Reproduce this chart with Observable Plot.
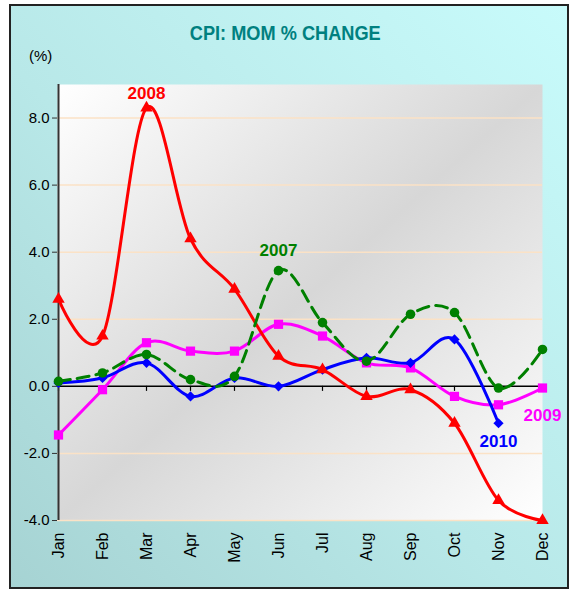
<!DOCTYPE html>
<html>
<head>
<meta charset="utf-8">
<script src="https://cdn.jsdelivr.net/npm/d3@7"></script>
<script src="https://cdn.jsdelivr.net/npm/@observablehq/plot@0.6"></script>
<style>
  html, body { margin: 0; padding: 0; background: #fff; }
  #wrap { position: relative; width: 571px; height: 591px; overflow: hidden; font-family: "Liberation Sans", Arial, sans-serif; }
  #frame { position: absolute; left: 9px; top: 4px; width: 556px; height: 581px; border: 2px solid #222;
           background: linear-gradient(to top right, #a6d3d3 0%, #b8e8e8 45%, #c8fbfb 100%); }
  #title { position: absolute; left: 0; width: 571px; top: 21px; text-align: center; }
  #title span { display: inline-block; color: #008080; font-family: "Liberation Sans", Arial, sans-serif;
           font-weight: bold; font-size: 21px; transform-origin: 50% 50%; white-space: nowrap; }
  #unit { position: absolute; left: 29px; top: 47px; font-size: 15px; color: #000; }
  #chart { position: absolute; left: 0; top: 70px; }
</style>
</head>
<body>
<div id="wrap">
  <div id="frame"></div>
  <div id="title"><span id="tspan">CPI: MOM % CHANGE</span></div>
  <div id="unit">(%)</div>
  <div id="chart"></div>
</div>
<script>
const months = ["Jan","Feb","Mar","Apr","May","Jun","Jul","Aug","Sep","Oct","Nov","Dec"];
const y2007 = [0.15, 0.4, 0.95, 0.2, 0.3, 3.45, 1.9, 0.75, 2.15, 2.2, -0.05, 1.1];
const y2008 = [2.6, 1.5, 8.3, 4.4, 2.9, 0.9, 0.5, -0.3, -0.1, -1.1, -3.4, -4.0];
const y2009 = [-1.45, -0.1, 1.3, 1.05, 1.05, 1.85, 1.5, 0.7, 0.55, -0.3, -0.55, -0.05];
const y2010 = [0.1, 0.25, 0.7, -0.3, 0.25, 0.0, 0.5, 0.85, 0.7, 1.4, -1.1];
const yTicks = [-4, -2, 0, 2, 4, 6, 8];
const seriesNames = ["2007", "2008", "2009", "2010"];

// condense the title to the reference's narrow bold look
const ts = document.getElementById("tspan");
const tw = ts.getBoundingClientRect().width;
ts.style.transform = `scaleX(${191 / tw})`;

const rows = (arr) => arr.map((v, i) => ({month: months[i], value: v}));
const s2007 = rows(y2007), s2008 = rows(y2008), s2009 = rows(y2009), s2010 = rows(y2010);

const C = {"2007": "#008000", "2008": "#ff0000", "2009": "#ff00ff", "2010": "#0000ff"};
const lab = (name, arr, idx, dy) => Plot.text([{month: months[idx], value: arr[idx], t: name}], {
  x: "month", y: "value", text: "t", dy, fill: C[name], fontWeight: "bold", fontSize: 17,
  fontFamily: "'Liberation Sans', Arial, sans-serif"
});

const svg = Plot.plot({
  width: 571,
  height: 521,
  marginTop: 14,
  marginRight: 29,
  marginBottom: 71,
  marginLeft: 57,
  style: {background: "transparent", fontFamily: "'Liberation Sans', Arial, sans-serif", color: "#000", overflow: "visible"},
  x: {type: "point", domain: months, padding: 0},
  y: {domain: [-4, 9]},
  marks: [
    Plot.frame({fill: "#dddddd", stroke: "none"}),
    Plot.ruleY(yTicks.filter(d => d !== 0), {stroke: "#fbe2c6", strokeWidth: 1.5}),
    Plot.ruleY([0], {stroke: "#000", strokeWidth: 1.5}),
    Plot.ruleX(months, {x: d => d, y1: 0, y2: -0.15, stroke: "#000", strokeWidth: 1.2}),
    Plot.ruleX([months[0]], {stroke: "#333", strokeWidth: 2}),
    Plot.axisY({ticks: yTicks, tickFormat: d => d.toFixed(1), tickSize: 5, tickPadding: 3, fontSize: 15, label: null, stroke: "#333"}),
    Plot.axisX({tickRotate: -90, tickSize: 0, tickPadding: 12, fontSize: 16, label: null}),
    Plot.line(s2009, {x: "month", y: "value", stroke: C["2009"], strokeWidth: 3, curve: "cardinal"}),
    Plot.dot(s2009, {x: "month", y: "value", symbol: "square", r: 5.2, fill: C["2009"]}),
    Plot.line(s2010, {x: "month", y: "value", stroke: C["2010"], strokeWidth: 3, curve: "cardinal"}),
    Plot.dot(s2010, {x: "month", y: "value", symbol: "diamond2", r: 4.6, fill: C["2010"]}),
    Plot.line(s2008, {x: "month", y: "value", stroke: C["2008"], strokeWidth: 3, curve: "cardinal"}),
    Plot.dot(s2008, {x: "month", y: "value", symbol: "triangle", r: 4.6, fill: C["2008"]}),
    Plot.line(s2007, {x: "month", y: "value", stroke: C["2007"], strokeWidth: 3, strokeDasharray: "12,7", curve: "cardinal"}),
    Plot.dot(s2007, {x: "month", y: "value", symbol: "circle", r: 4.8, fill: C["2007"]}),
    lab(seriesNames[1], y2008, 2, -14),
    lab(seriesNames[0], y2007, 5, -20),
    lab(seriesNames[2], y2009, 11, 28),
    lab(seriesNames[3], y2010, 10, 18)
  ]
});

// diagonal white-gray-white gradient for the plot area
const ns = "http://www.w3.org/2000/svg";
const defs = document.createElementNS(ns, "defs");
const grad = document.createElementNS(ns, "linearGradient");
grad.setAttribute("id", "pbg");
grad.setAttribute("x1", "0"); grad.setAttribute("y1", "0");
grad.setAttribute("x2", "1"); grad.setAttribute("y2", "1");
[["0%", "#ffffff"], ["50%", "#d7d7d7"], ["100%", "#ffffff"]].forEach(([o, c]) => {
  const st = document.createElementNS(ns, "stop");
  st.setAttribute("offset", o); st.setAttribute("stop-color", c);
  grad.appendChild(st);
});
defs.appendChild(grad);
svg.insertBefore(defs, svg.firstChild);
const fr = svg.querySelector('[aria-label="frame"]');
if (fr) {
  const rect = fr.tagName.toLowerCase() === "rect" ? fr : fr.querySelector("rect");
  if (rect) rect.setAttribute("fill", "url(#pbg)");
}
document.getElementById("chart").appendChild(svg);
</script>
</body>
</html>
